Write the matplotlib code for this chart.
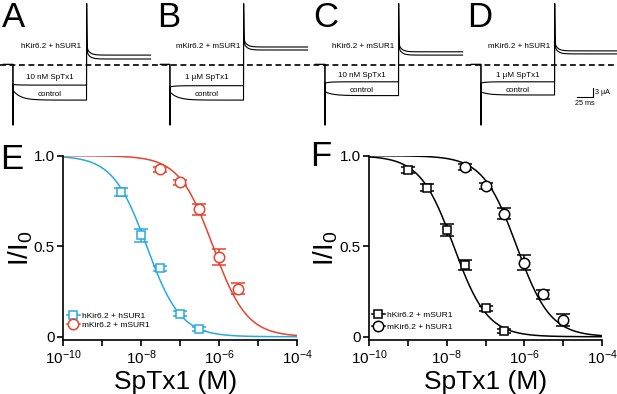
import numpy as np
import matplotlib
matplotlib.use('Agg')
import matplotlib.pyplot as plt
from matplotlib.lines import Line2D

plt.rcParams['font.family'] = ['Liberation Sans', 'DejaVu Sans']
plt.rcParams['mathtext.default'] = 'regular'

# --- top row: example current traces (ms, uA) ---
panel_letters = ['A', 'B', 'C', 'D']
channel_labels = ['hKir6.2 + hSUR1', 'mKir6.2 + mSUR1', 'hKir6.2 + mSUR1', 'mKir6.2 + hSUR1']
tox_labels = ['10 nM SpTx1', '1 \u00b5M SpTx1', '10 nM SpTx1', '1 \u00b5M SpTx1']
onset_ms = [20.3, 265.6, 507.8, 751.6]
tox_early = [-6.5, -7.3, -6.0, -6.0]
tox_late = [-6.7, -6.9, -5.6, -5.6]
ctrl_early = [-8.5, -9.0, -8.9, -9.0]
ctrl_late = [-11.7, -11.7, -10.2, -10.0]
tail_ctrl = [3.3, 6.0, 4.4, 4.7]
tail_tox = [2.0, 5.0, 3.3, 3.7]
step_ms = 115.0
pre_ms = 15.0
tail_ms = 100.0
spike_down = -20.0
spike_up = 20.5
holding = 0.2

# --- bottom row: concentration-response ---
conc_E_h = [3e-9, 1e-8, 3e-8, 1e-7, 3e-7]
resp_E_h = [0.80, 0.56, 0.378, 0.128, 0.041]
err_E_h = [0.02, 0.035, 0.015, 0.015, 0.012]
conc_E_m = [3e-8, 1e-7, 3e-7, 1e-6, 3e-6]
resp_E_m = [0.925, 0.853, 0.703, 0.44, 0.265]
err_E_m = [0.015, 0.015, 0.03, 0.045, 0.03]

conc_F_h = [1e-9, 3e-9, 1e-8, 3e-8, 1e-7, 3e-7]
resp_F_h = [0.922, 0.823, 0.59, 0.396, 0.157, 0.031]
err_F_h = [0.015, 0.02, 0.035, 0.03, 0.015, 0.01]
conc_F_m = [3e-8, 1e-7, 3e-7, 1e-6, 3e-6, 1e-5]
resp_F_m = [0.938, 0.833, 0.68, 0.41, 0.234, 0.092]
err_F_m = [0.015, 0.015, 0.03, 0.04, 0.025, 0.035]

ic50_E = [1.4e-8, 7.0e-7]
ic50_F = [1.5e-8, 6.3e-7]
hill = 1.0

blue = '#27A9E1'
red = '#E8432E'


def make_trace(i_early, i_late, tau, i_tail):
    dt = 0.1
    t_pre = np.arange(-pre_ms, 0, dt)
    t_step = np.arange(0, step_ms, dt)
    t_tail = np.arange(0, tail_ms, dt)
    i_step = i_late + (i_early - i_late) * np.exp(-t_step / tau)
    i_tail = i_tail + (spike_up - i_tail - 2.5) * np.exp(-t_tail / 0.4) + 2.5 * np.exp(-t_tail / 5.0)
    t = np.concatenate([t_pre, [0.0], t_step, [step_ms], t_tail + step_ms])
    i = np.concatenate([np.full(len(t_pre), holding), [spike_down], i_step, [spike_up], i_tail])
    return t, i


fig = plt.figure(figsize=(6.17, 3.94), dpi=100)

# top traces share one axes, 1 px = 1.5625 ms horizontally, 1 px = 1/3 uA vertically
ax_top = fig.add_axes([0, 259 / 394, 1, 135 / 394])
ax_top.set_xlim(0, 617 * 1.5625)
ax_top.set_ylim(-70 / 3, 65 / 3)
ax_top.axis('off')
ax_top.axhline(0, color='black', lw=1.2, dashes=(3.5, 2.2), zorder=3)

for k in range(4):
    t0 = onset_ms[k]
    t, i = make_trace(ctrl_early[k], ctrl_late[k], 12.0, tail_ctrl[k])
    ax_top.plot(t + t0, i, color='black', lw=0.8)
    t, i = make_trace(tox_early[k], tox_late[k], 8.0, tail_tox[k])
    ax_top.plot(t + t0, i, color='black', lw=0.8)
    xc = t0 + step_ms * 0.5
    ax_top.text(xc + 2, 6.0, channel_labels[k], fontsize=5.8, ha='center', va='center')
    ax_top.text(xc, tox_late[k] * 0.5 - 0.8, tox_labels[k], fontsize=5.8, ha='center', va='center')
    ax_top.text(xc, (tox_late[k] + ctrl_late[k]) * 0.5 - 0.6, 'control', fontsize=5.8,
                ha='center', va='center')

letter_x = [2, 157, 313, 467]
for k in range(4):
    fig.text(letter_x[k] / 617, 1 - 1 / 394, panel_letters[k], fontsize=25, ha='left', va='top')

# scale bar: 25 ms x 3 uA
sb_x, sb_y = 901.6, -10.67
ax_top.plot([sb_x, sb_x + 25, sb_x + 25], [sb_y, sb_y, sb_y + 3], color='black', lw=0.8)
ax_top.text(sb_x + 28, sb_y + 1.5, '3 \u00b5A', fontsize=5.2, ha='left', va='center')
ax_top.text(sb_x + 12.5, sb_y - 2.3, '25 ms', fontsize=5.2, ha='center', va='center')


def dose_panel(ax, series, ic50s, labels, legend_anchor, spacing):
    xs = np.logspace(-10, -4, 300)
    handles = []
    for (conc, resp, err, marker, ms, color), ic50, lab in zip(series, ic50s, labels):
        ax.plot(xs, 1 / (1 + (xs / ic50) ** hill), color=color, lw=1.1)
        ax.errorbar(conc, resp, yerr=err, fmt=marker, ms=ms, mfc='white', mec=color,
                    mew=1.1, ecolor=color, elinewidth=1.1, capsize=5, capthick=1.1)
        handles.append(Line2D([], [], color=color, lw=1.1, marker=marker, ms=ms,
                              mfc='white', mec=color, mew=1.1, label=lab))
    ax.set_xscale('log')
    ax.set_xlim(1e-10, 1e-4)
    ax.set_ylim(-0.018, 1.0)
    ax.set_xticks([1e-10, 1e-9, 1e-8, 1e-7, 1e-6, 1e-5, 1e-4])
    ax.set_xticklabels([r'$10^{-10}$', '', r'$10^{-8}$', '', r'$10^{-6}$', '', r'$10^{-4}$'])
    ax.xaxis.set_minor_locator(matplotlib.ticker.NullLocator())
    ax.set_yticks([0, 0.5, 1.0])
    ax.set_yticklabels(['0', '0.5', '1.0'])
    for s in ['top', 'right']:
        ax.spines[s].set_visible(False)
    for s in ['left', 'bottom']:
        ax.spines[s].set_linewidth(1.2)
    ax.tick_params(direction='out', length=4, width=1.2, labelsize=11, pad=2)
    ax.set_xlabel('SpTx1 (M)', fontsize=19)
    ax.set_ylabel(r'I/I$_0$', fontsize=20)
    ax.legend(handles=handles, loc='lower left', bbox_to_anchor=legend_anchor, frameon=False,
              fontsize=6, handlelength=1.6, handletextpad=0.3, labelspacing=spacing,
              borderpad=0, borderaxespad=0)


ax_e = fig.add_axes([63 / 617, 54 / 394, 234 / 617, 184.3 / 394])
dose_panel(ax_e,
           [(conc_E_h, resp_E_h, err_E_h, 's', 6, blue),
            (conc_E_m, resp_E_m, err_E_m, 'o', 7.5, red)],
           ic50_E, ['hKir6.2 + hSUR1', 'mKir6.2 + mSUR1'], (0.015, 0.06), 0.15)
ax_e.yaxis.set_label_coords(-0.12, 0.5)
ax_e.xaxis.set_label_coords(0.48, -0.165)

ax_f = fig.add_axes([369.3 / 617, 54 / 394, 232.7 / 617, 184.3 / 394])
dose_panel(ax_f,
           [(conc_F_h, resp_F_h, err_F_h, 's', 6, 'black'),
            (conc_F_m, resp_F_m, err_F_m, 'o', 7.5, 'black')],
           ic50_F, ['hKir6.2 + mSUR1', 'mKir6.2 + hSUR1'], (0.01, 0.05), 0.45)
ax_f.yaxis.set_label_coords(-0.125, 0.5)
ax_f.xaxis.set_label_coords(0.5, -0.165)

fig.text(0 / 617, 1 - 143 / 394, 'E', fontsize=25, ha='left', va='top')
fig.text(310 / 617, 1 - 140 / 394, 'F', fontsize=25, ha='left', va='top')

fig.savefig('out.png', dpi=100)
